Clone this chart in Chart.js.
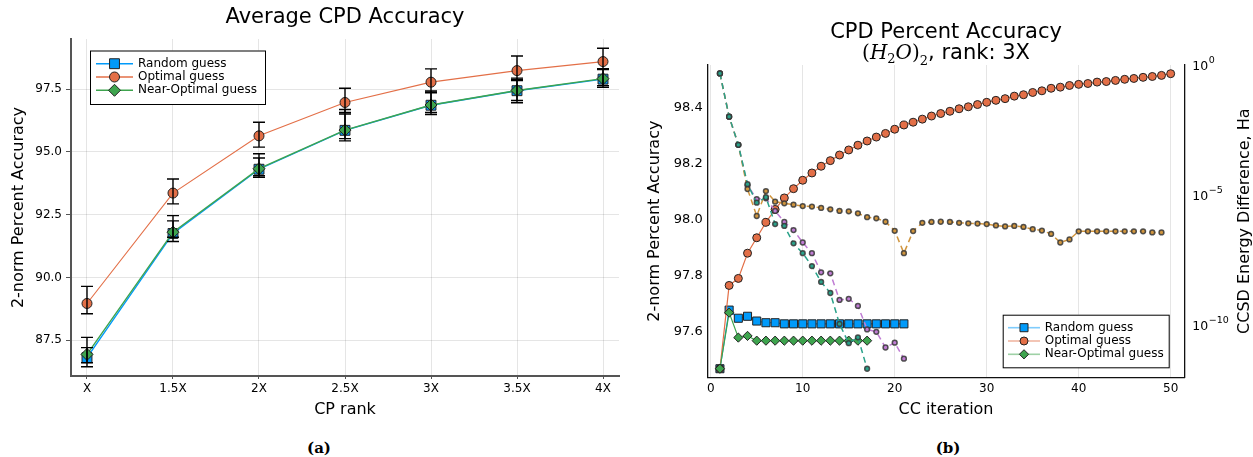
<!DOCTYPE html>
<html lang="en">
<head>
<meta charset="UTF-8">
<title>CPD Accuracy</title>
<script src="https://cdn.jsdelivr.net/npm/chart.js"></script>
<style>
  body { margin: 0; background: #fff; }
  .wrap { position: relative; width: 1253px; height: 457px; }
  #leftChart { position: absolute; left: 0; top: 0; }
  #rightChart { position: absolute; left: 640px; top: 0; }
  .caption {
    position: absolute; top: 439px; line-height: 18px;
    font-family: 'DejaVu Serif', serif; font-weight: bold; font-size: 15px;
    transform: translateX(-50%);
  }
</style>
</head>
<body>
<div class="wrap">
  <canvas id="leftChart" width="630" height="430"></canvas>
  <canvas id="rightChart" width="613" height="430"></canvas>
  <div class="caption" style="left:319px">(a)</div>
  <div class="caption" style="left:948px">(b)</div>
</div>

<script>
const FONT = "'DejaVu Sans', sans-serif";

// ---- (a) average accuracy per CP rank
const rankLabels = ['X', '1.5X', '2X', '2.5X', '3X', '3.5X', '4X'];
const avgRandom  = [86.80, 91.75, 94.31, 95.86, 96.86, 97.44, 97.90];
const avgOptimal = [88.96, 93.36, 95.64, 96.97, 97.78, 98.24, 98.60];
const avgNear    = [86.93, 91.80, 94.33, 95.87, 96.87, 97.45, 97.92];
// error bars, upper and lower extent
const errRandomUp    = [0.40, 0.50, 0.45, 0.65, 0.50, 0.45, 0.38];
const errRandomDown  = [0.36, 0.32, 0.32, 0.42, 0.37, 0.48, 0.32];
const errOptimalUp   = [0.68, 0.56, 0.54, 0.57, 0.53, 0.58, 0.53];
const errOptimalDown = [0.41, 0.43, 0.45, 0.40, 0.40, 0.40, 0.30];
const errNearUp      = [0.68, 0.66, 0.60, 0.82, 0.56, 0.49, 0.40];
const errNearDown    = [0.33, 0.20, 0.28, 0.34, 0.30, 0.40, 0.28];
const avgTicks = [87.5, 90.0, 92.5, 95.0, 97.5];

// ---- (b) accuracy per CC iteration, rank 3X
const iterRandomAcc = [97.468, 97.677, 97.648, 97.655, 97.638, 97.632, 97.632, 97.628, 97.628, 97.628,
  97.628, 97.628, 97.628, 97.628, 97.628, 97.628, 97.628, 97.628, 97.628, 97.628, 97.628];
const iterOptimalAcc = [97.468, 97.765, 97.79, 97.88, 97.935, 97.99, 98.036, 98.077, 98.11, 98.14,
  98.166, 98.19, 98.21, 98.23, 98.248, 98.265, 98.28, 98.294, 98.307, 98.322,
  98.337, 98.347, 98.358, 98.369, 98.378, 98.386, 98.395, 98.402, 98.41, 98.418,
  98.425, 98.431, 98.44, 98.445, 98.453, 98.459, 98.468, 98.472, 98.478, 98.482,
  98.485, 98.49, 98.492, 98.496, 98.5, 98.503, 98.507, 98.51, 98.514, 98.52];
const iterNearAcc = [97.468, 97.668, 97.579, 97.585, 97.568, 97.568, 97.568, 97.568, 97.568, 97.568,
  97.568, 97.568, 97.568, 97.568, 97.568, 97.568, 97.568];
// CCSD energy difference (Ha), right axis
const energyRandom = [4.9e-1, 1.07e-2, 8.9e-4, 2.5e-5, 7.4e-6, 7.9e-6, 2.6e-6, 9.8e-7, 4.8e-7, 1.6e-7,
  6.2e-8, 1.15e-8, 1.05e-8, 1.0e-9, 1.1e-9, 5.9e-10, 7.4e-11, 6.0e-11, 1.5e-11, 2.3e-11, 5.6e-12];
const energyOptimal = [4.9e-1, 1.07e-2, 8.9e-4, 1.8e-5, 1.66e-6, 1.5e-5, 5.9e-6, 5.1e-6, 4.5e-6, 4.0e-6,
  3.8e-6, 3.4e-6, 3.0e-6, 2.6e-6, 2.5e-6, 2.1e-6, 1.5e-6, 1.35e-6, 1.0e-6, 4.5e-7,
  6.2e-8, 4.4e-7, 9.1e-7, 9.8e-7, 1.0e-6, 9.8e-7, 9.1e-7, 8.7e-7, 8.5e-7, 8.1e-7,
  7.2e-7, 6.6e-7, 6.9e-7, 6.3e-7, 5.2e-7, 4.6e-7, 3.4e-7, 1.6e-7, 2.1e-7, 4.3e-7,
  4.3e-7, 4.3e-7, 4.3e-7, 4.3e-7, 4.3e-7, 4.3e-7, 4.3e-7, 3.9e-7, 3.9e-7];
const energyNear = [4.9e-1, 1.07e-2, 8.9e-4, 2.75e-5, 5.4e-6, 8.7e-6, 8.1e-7, 6.9e-7, 1.48e-7, 6.2e-8,
  2.0e-8, 4.9e-9, 1.85e-9, 1.2e-10, 2.2e-11, 3.7e-11, 2.3e-12];
const iterTicks = [0, 10, 20, 30, 40, 50];
const iterAccTicks = [97.6, 97.8, 98.0, 98.2, 98.4];
const energyTicks = [1e0, 1e-5, 1e-10];
const energyTickExp = ['0', '−5', '−10'];   // drawn as 10 with a raised exponent

const C_RANDOM = '#009AFA';
const C_OPT = '#E36F47';
const C_NEAR = '#3EA44E';

// turn a value list into {x, y} points starting at x0
const toPoints = (vals, x0) => vals.map((v, i) => ({ x: x0 + i, y: v }));

// black error bars drawn over the markers
const errorBars = {
  id: 'errorBars',
  afterDatasetsDraw(chart) {
    const ctx = chart.ctx;
    const ys = chart.scales.y;
    ctx.save();
    ctx.strokeStyle = '#000';
    ctx.lineWidth = 1.4;
    chart.data.datasets.forEach((ds, i) => {
      if (!ds.errUp) return;
      chart.getDatasetMeta(i).data.forEach((pt, j) => {
        const v = ds.data[j].y;
        const top = ys.getPixelForValue(v + ds.errUp[j]);
        const bot = ys.getPixelForValue(v - ds.errDown[j]);
        ctx.beginPath();
        ctx.moveTo(pt.x, top); ctx.lineTo(pt.x, bot);
        ctx.moveTo(pt.x - 6, top); ctx.lineTo(pt.x + 6, top);
        ctx.moveTo(pt.x - 6, bot); ctx.lineTo(pt.x + 6, bot);
        ctx.stroke();
      });
    });
    ctx.restore();
  }
};

// legend box placed inside the plot, like the original
const insetLegend = {
  id: 'insetLegend',
  afterDraw(chart, args, o) {
    const ctx = chart.ctx;
    ctx.save();
    ctx.fillStyle = '#fff';
    ctx.fillRect(o.x, o.y, o.w, o.h);
    ctx.strokeStyle = '#000';
    ctx.lineWidth = 1;
    ctx.strokeRect(o.x + 0.5, o.y + 0.5, o.w, o.h);
    o.items.forEach((idx, k) => {
      const ds = chart.data.datasets[idx];
      const cy = o.y + o.firstRow + k * o.rowH;
      ctx.globalAlpha = o.lineAlpha;
      ctx.strokeStyle = ds.borderColor;
      ctx.lineWidth = 1.6;
      ctx.beginPath();
      ctx.moveTo(o.lineX0, cy); ctx.lineTo(o.lineX1, cy);
      ctx.stroke();
      ctx.globalAlpha = 1;
      ctx.fillStyle = ds.pointBackgroundColor;
      ctx.strokeStyle = ds.pointBorderColor;
      ctx.lineWidth = ds.pointBorderWidth;
      Chart.helpers.drawPoint(ctx, {
        pointStyle: ds.pointStyle, rotation: 0,
        radius: ds.pointRadius, borderWidth: ds.pointBorderWidth
      }, (o.lineX0 + o.lineX1) / 2, cy);
      ctx.fillStyle = '#000';
      ctx.font = '12px ' + FONT;
      ctx.textAlign = 'left';
      ctx.textBaseline = 'middle';
      ctx.fillText(ds.label, o.textX, cy);
    });
    ctx.restore();
  }
};

// second title line with the formula, power-of-ten labels, right axis title
const rightDecor = {
  id: 'rightDecor',
  afterDraw(chart) {
    const ctx = chart.ctx;
    const area = chart.chartArea;
    ctx.save();
    ctx.fillStyle = '#000';
    ctx.textBaseline = 'alphabetic';
    ctx.textAlign = 'left';
    const runs = [
      { t: '(', f: '20px "DejaVu Serif"', dy: 0 },
      { t: 'H', f: 'italic 20px "DejaVu Serif"', dy: 0 },
      { t: '2', f: '13px "DejaVu Serif"', dy: 4 },
      { t: 'O', f: 'italic 20px "DejaVu Serif"', dy: 0 },
      { t: ')', f: '20px "DejaVu Serif"', dy: 0 },
      { t: '2', f: '13px "DejaVu Serif"', dy: 6 },
      { t: ', rank: 3X', f: '21px ' + FONT, dy: 0 }
    ];
    let total = 0;
    runs.forEach(r => { ctx.font = r.f; r.w = ctx.measureText(r.t).width; total += r.w; });
    let x = (area.left + area.right) / 2 - total / 2;
    runs.forEach(r => { ctx.font = r.f; ctx.fillText(r.t, x, 59 + r.dy); x += r.w; });

    // 10^n tick labels of the energy axis
    const y2 = chart.scales.y2;
    energyTicks.forEach((v, i) => {
      const py = y2.getPixelForValue(v);
      const lx = y2.left + 8;
      ctx.font = '12.5px ' + FONT;
      ctx.textBaseline = 'middle';
      ctx.fillText('10', lx, py + 1);
      const w = ctx.measureText('10').width;
      ctx.font = '9.5px ' + FONT;
      ctx.fillText(energyTickExp[i], lx + w + 0.5, py - 5);
    });

    ctx.translate(chart.width - 8, (area.top + area.bottom) / 2);
    ctx.rotate(-Math.PI / 2);
    ctx.font = '16px ' + FONT;
    ctx.textAlign = 'center';
    ctx.textBaseline = 'middle';
    ctx.fillText('CCSD Energy Difference, Ha', 0, 0);
    ctx.restore();
  }
};

function series(label, points, color, style, radius, extra) {
  return Object.assign({
    label: label,
    data: points,
    borderColor: color,
    backgroundColor: color,
    borderWidth: 1.4,
    pointStyle: style,
    pointRadius: radius,
    pointHoverRadius: radius,
    pointBackgroundColor: color,
    pointBorderColor: '#222',
    pointBorderWidth: 1
  }, extra || {});
}

// ---------- chart (a)
new Chart(document.getElementById('leftChart'), {
  type: 'line',
  data: {
    datasets: [
      series('Random guess', toPoints(avgRandom, 0), C_RANDOM, 'rect', 7,
        { errUp: errRandomUp, errDown: errRandomDown, order: 3 }),
      series('Optimal guess', toPoints(avgOptimal, 0), C_OPT, 'circle', 5,
        { errUp: errOptimalUp, errDown: errOptimalDown, order: 2, borderWidth: 1.1 }),
      series('Near-Optimal guess', toPoints(avgNear, 0), C_NEAR, 'rectRot', 6,
        { errUp: errNearUp, errDown: errNearDown, order: 1 })
    ]
  },
  options: {
    responsive: false,
    animation: false,
    devicePixelRatio: 1,
    layout: { padding: { left: 0, right: 11, top: 0, bottom: 0 } },
    plugins: {
      legend: { display: false },
      tooltip: { enabled: false },
      title: {
        display: true, text: 'Average CPD Accuracy', fullSize: false, color: '#000',
        font: { family: FONT, size: 21, weight: 'normal' },
        padding: { top: 5, bottom: 8.8 }
      },
      insetLegend: {
        x: 90, y: 50.5, w: 175, h: 53.5, firstRow: 13.2, rowH: 13.3,
        lineX0: 96, lineX1: 133, textX: 138, lineAlpha: 1, items: [0, 1, 2]
      }
    },
    scales: {
      x: {
        type: 'linear', min: -0.186, max: 6.186,
        afterBuildTicks: s => { s.ticks = rankLabels.map((_, i) => ({ value: i })); },
        afterFit: s => { s.height = 54; },
        ticks: {
          callback: v => rankLabels[v], color: '#000', padding: 3,
          maxRotation: 0, autoSkip: false, font: { family: FONT, size: 12 }
        },
        grid: { color: 'rgba(0,0,0,0.1)', tickLength: 3, tickColor: '#555' },
        border: { color: '#555', width: 2 },
        title: {
          display: true, text: 'CP rank', color: '#000',
          font: { family: FONT, size: 16 }, padding: { top: 0, bottom: 11 }
        }
      },
      y: {
        min: 86.07, max: 99.5,
        afterBuildTicks: s => { s.ticks = avgTicks.map(v => ({ value: v })); },
        afterFit: s => { s.width = 71; },
        ticks: { callback: v => v.toFixed(1), color: '#000', padding: 4, font: { family: FONT, size: 12 } },
        grid: { color: 'rgba(0,0,0,0.1)', tickLength: 5, tickColor: '#555' },
        border: { color: '#555', width: 2 },
        title: {
          display: true, text: '2-norm Percent Accuracy', color: '#000',
          font: { family: FONT, size: 16 }, padding: { top: 9, bottom: 0 }
        }
      }
    }
  },
  plugins: [errorBars, insetLegend]
});

// ---------- chart (b)
function energySeries(vals, color, order) {
  return {
    label: 'energy',
    data: toPoints(vals, 1),
    yAxisID: 'y2',
    borderColor: color,
    backgroundColor: color,
    borderWidth: 1.5,
    borderDash: [6, 4],
    pointRadius: 2.4,
    pointHoverRadius: 2.4,
    pointBackgroundColor: color,
    pointBorderColor: 'rgba(55,55,55,0.85)',
    pointBorderWidth: 1.5,
    order: order
  };
}

new Chart(document.getElementById('rightChart'), {
  type: 'line',
  data: {
    datasets: [
      series('Random guess', toPoints(iterRandomAcc, 1), C_RANDOM, 'rect', 5.7,
        { order: 6, borderWidth: 1.2 }),
      series('Optimal guess', toPoints(iterOptimalAcc, 1), C_OPT, 'circle', 4,
        { order: 5, borderWidth: 1.2 }),
      series('Near-Optimal guess', toPoints(iterNearAcc, 1), C_NEAR, 'rectRot', 4.6,
        { order: 4, borderWidth: 1.2 }),
      energySeries(energyRandom, '#C07DD4', 3),
      energySeries(energyOptimal, '#D0953E', 2),
      energySeries(energyNear, '#2AA28A', 1)
    ]
  },
  options: {
    responsive: false,
    animation: false,
    devicePixelRatio: 1,
    layout: { padding: 0 },
    plugins: {
      legend: { display: false },
      tooltip: { enabled: false },
      title: {
        display: true, text: 'CPD Percent Accuracy', fullSize: false, color: '#000',
        font: { family: FONT, size: 21, weight: 'normal' },
        padding: { top: 20, bottom: 19.8 }
      },
      insetLegend: {
        x: 362.7, y: 314.7, w: 166, h: 52.6, firstRow: 13, rowH: 13.3,
        lineX0: 368, lineX1: 400, textX: 404.7, lineAlpha: 0.5, items: [0, 1, 2]
      }
    },
    scales: {
      x: {
        type: 'linear', min: -0.33, max: 51.48,
        afterBuildTicks: s => { s.ticks = iterTicks.map(v => ({ value: v })); },
        afterFit: s => { s.height = 52.7; },
        ticks: { color: '#000', padding: 4.8, maxRotation: 0, font: { family: FONT, size: 12 } },
        grid: { color: 'rgba(0,0,0,0.1)', drawTicks: false },
        border: { color: '#111', width: 1.3 },
        title: {
          display: true, text: 'CC iteration', color: '#000',
          font: { family: FONT, size: 16 }, padding: { top: 0, bottom: 10.4 }
        }
      },
      y: {
        position: 'left',
        min: 97.4374, max: 98.551,
        afterBuildTicks: s => { s.ticks = iterAccTicks.map(v => ({ value: v })); },
        afterFit: s => { s.width = 67.7; },
        ticks: { callback: v => v.toFixed(1), color: '#000', padding: 5, font: { family: FONT, size: 13 } },
        grid: { display: false, drawTicks: false },
        border: { color: '#111', width: 1.3 },
        title: {
          display: true, text: '2-norm Percent Accuracy', color: '#000',
          font: { family: FONT, size: 16 }, padding: { top: 5.4, bottom: 0 }
        }
      },
      y2: {
        type: 'logarithmic',
        position: 'right',
        min: 1.08e-12, max: 1.027,
        afterBuildTicks: s => { s.ticks = energyTicks.map(v => ({ value: v })); },
        afterFit: s => { s.width = 68.7; },
        ticks: { display: false },
        grid: { display: false, drawTicks: false },
        border: { color: '#111', width: 1.3 }
      }
    }
  },
  plugins: [insetLegend, rightDecor]
});
</script>
</body>
</html>
